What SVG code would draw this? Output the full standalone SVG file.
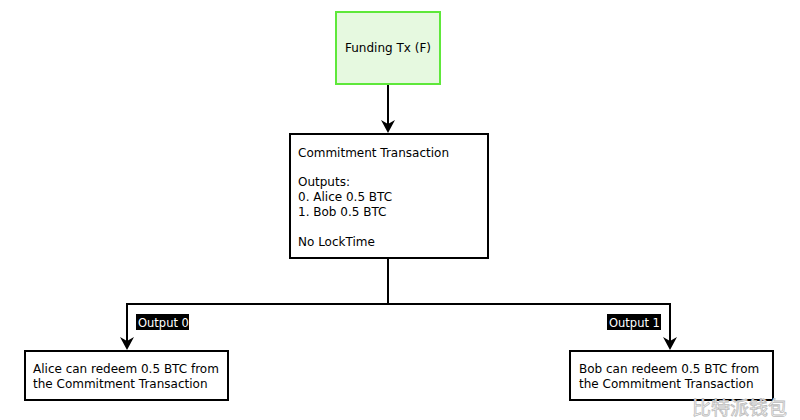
<svg xmlns="http://www.w3.org/2000/svg" width="800" height="420" viewBox="0 0 800 420">
<defs>
<style>
text{font-family:"DejaVu Sans","Liberation Sans",sans-serif;font-size:12px;fill:#000}
.box{fill:#fff;stroke:#000;stroke-width:2}
.edge{fill:none;stroke:#000;stroke-width:2}
.head{fill:#000}
.lbl{fill:#fff;font-size:11.5px}
.wm{font-family:"Noto Sans CJK SC",sans-serif;font-size:19px;fill:#fff;stroke:#bbb;stroke-width:0.8}
</style>
</defs>
<rect width="800" height="420" fill="#fff"/>
<g id="connectors">
<path class="edge" d="M388,85 V126"/>
<path class="head" d="M381,120 L388,133 L395,120 L388,124 z"/>
<path class="edge" d="M388,259 V304 H127 V343"/>
<path class="head" d="M120,337 L127,350 L134,337 L127,341 z"/>
<path class="edge" d="M388,304 H670 V343"/>
<path class="head" d="M663,337 L670,350 L677,337 L670,341 z"/>
<g id="label0"><rect x="136" y="314" width="53" height="16" fill="#000"/><text class="lbl" x="138" y="326.5">Output 0</text></g>
<g id="label1"><rect x="607" y="314" width="54" height="16" fill="#000"/><text class="lbl" x="609" y="326.5">Output 1</text></g>
</g>
<g id="funding">
<rect x="336" y="12" width="104" height="72" fill="#e6f9e0" stroke="#5ee83a" stroke-width="2"/>
<text x="388" y="52" text-anchor="middle">Funding Tx (F)</text>
</g>
<g id="commitment">
<rect class="box" x="290" y="134" width="198" height="124"/>
<text x="298" y="157">Commitment Transaction</text>
<text x="298" y="186">Outputs:</text>
<text x="298" y="201">0. Alice 0.5 BTC</text>
<text x="298" y="216">1. Bob 0.5 BTC</text>
<text x="298" y="246">No LockTime</text>
</g>
<g id="alice">
<rect class="box" x="25" y="351" width="203" height="49"/>
<text x="33" y="373">Alice can redeem 0.5 BTC from</text>
<text x="33" y="388">the Commitment Transaction</text>
</g>
<g id="bob">
<rect class="box" x="570" y="351" width="203" height="49"/>
<text x="579" y="373">Bob can redeem 0.5 BTC from</text>
<text x="579" y="388">the Commitment Transaction</text>
</g>
<text class="wm" x="692" y="415">比特派钱包</text>
</svg>
